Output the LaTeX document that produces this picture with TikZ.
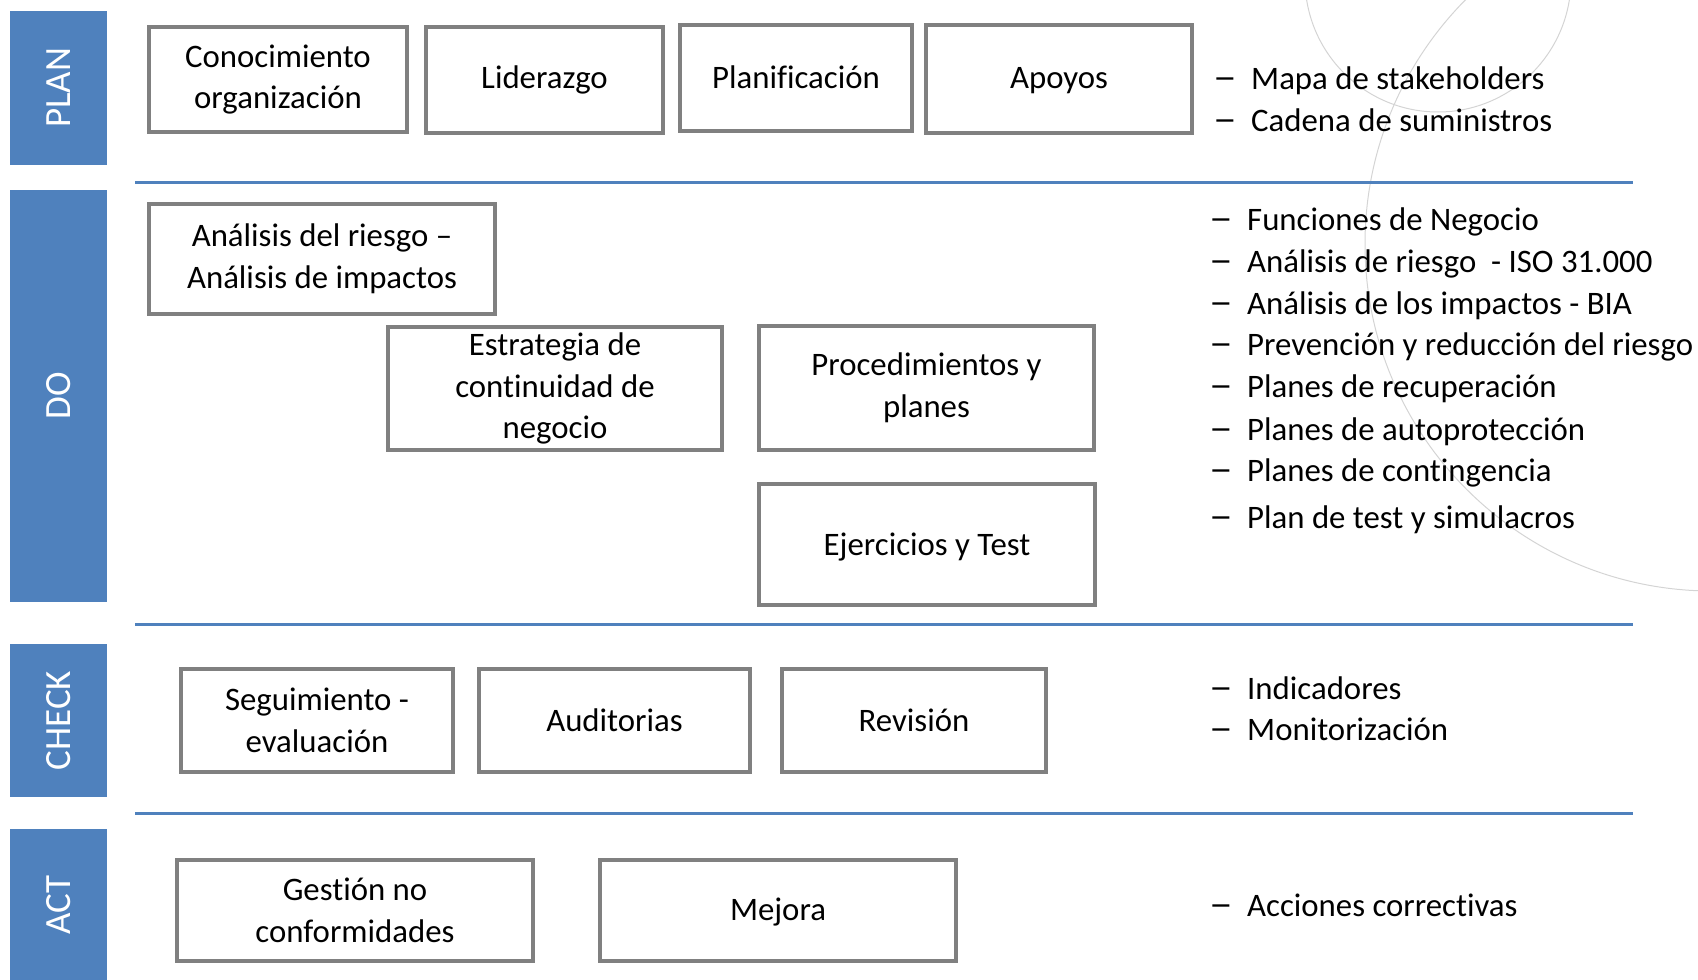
\documentclass[tikz,border=0pt]{standalone}
\usepackage{graphicx}
\usepackage{fontspec}
\setmainfont{Carlito}[Ligatures=NoCommon]
\definecolor{barblue}{HTML}{4F81BD}
\definecolor{boxgray}{HTML}{808080}
\definecolor{arcgray}{HTML}{D4D4D4}
\newcommand{\longdash}{\scalebox{1.45}[1.15]{–}}
\newcommand{\lowered}[2]{\raisebox{-#1}[\height][\depth]{#2}}
\begin{document}
\begin{tikzpicture}[x=1pt,y=-1pt,
  box/.style={draw=boxgray, line width=3.5pt, fill=white, align=center, inner sep=0pt,
    font=\fontsize{32.8}{41.7}\selectfont, text=black},
  bar/.style={fill=barblue, draw=none, inner sep=0pt, rotate=90, text=white,
    font=\fontsize{37}{44}\selectfont},
  sep/.style={draw=barblue, line width=3pt},
  item/.style={anchor=base west, inner sep=0pt, font=\fontsize{32.8}{41.7}\selectfont, text=black},
  arc/.style={draw=arcgray, line width=1pt}]
\useasboundingbox (0,0) rectangle (1698,980);
% faint background arcs
\begin{scope}
\clip (0,0) rectangle (1698,980);
\draw[arc] (1438,-21) circle [radius=133pt];
\draw[arc] (1712,244) circle [radius=347pt];
\end{scope}
% side bars
\node[bar, minimum width=154pt, minimum height=97pt] (plan) at (58.5,88) {PLAN};
\node[bar, minimum width=412pt, minimum height=97pt] (do) at (58.5,396) {DO};
\node[bar, minimum width=153pt, minimum height=97pt] (check) at (58.5,720.5) {CHECK};
\node[bar, minimum width=152pt, minimum height=97pt] (act) at (58.5,905) {ACT};
% separators
\coordinate (s1a) at (135,182); \coordinate (s1b) at (1633,182);
\coordinate (s2a) at (135,624); \coordinate (s2b) at (1633,624);
\coordinate (s3a) at (135,813); \coordinate (s3b) at (1633,813);
\draw[sep] (s1a) -- (s1b);
\draw[sep] (s2a) -- (s2b);
\draw[sep] (s3a) -- (s3b);
% PLAN boxes
\node[box, minimum width=258pt, minimum height=105pt] (b1) at (278,79.5) {Conocimiento\\organización};
\node[box, minimum width=237pt, minimum height=106pt] (b2) at (544.5,80) {Liderazgo};
\node[box, minimum width=232pt, minimum height=106pt] (b3) at (796,78) {\lowered{-1pt}{Planificación}};
\node[box, minimum width=266pt, minimum height=108pt] (b4) at (1059,79) {\lowered{2pt}{Apoyos}};
% DO boxes
\node[box, minimum width=346pt, minimum height=110pt] (b5) at (322,259) {Análisis del riesgo –\\Análisis de impactos};
\node[box, minimum width=334pt, minimum height=123pt] (b6) at (555,388.5) {Estrategia de\\continuidad de\\negocio};
\node[box, minimum width=335pt, minimum height=124pt] (b7) at (926.5,388) {Procedimientos y\\planes};
\node[box, minimum width=336pt, minimum height=121pt] (b8) at (927,544.5) {\lowered{3pt}{Ejercicios y Test}};
% CHECK boxes
\node[box, minimum width=272pt, minimum height=103pt] (b9) at (317,720.5) {Seguimiento -\\evaluación};
\node[box, minimum width=271pt, minimum height=103pt] (b10) at (614.5,720.5) {Auditorias};
\node[box, minimum width=264pt, minimum height=103pt] (b11) at (914,720.5) {Revisión};
% ACT boxes
\node[box, minimum width=356pt, minimum height=101pt] (b12) at (355,910.5) {Gestión no\\conformidades};
\node[box, minimum width=356pt, minimum height=101pt] (b13) at (778,910.5) {\lowered{2pt}{Mejora}};
% PLAN list
\node[item] (pd1) at (1213,89) {\longdash};  \node[item] (pt1) at (1251,89) {Mapa de stakeholders};
\node[item] (pd2) at (1213,131) {\longdash}; \node[item] (pt2) at (1251,131) {Cadena de suministros};
% DO list
\node[item] (dd1) at (1209,230) {\longdash}; \node[item] (dt1) at (1247,230) {Funciones de Negocio};
\node[item] (dd2) at (1209,272) {\longdash}; \node[item] (dt2) at (1247,272) {Análisis de riesgo\ \ - ISO 31.000};
\node[item] (dd3) at (1209,314) {\longdash}; \node[item] (dt3) at (1247,314) {Análisis de los impactos - BIA};
\node[item] (dd4) at (1209,355) {\longdash}; \node[item] (dt4) at (1247,355) {Prevención y reducción del riesgo};
\node[item] (dd5) at (1209,397) {\longdash}; \node[item] (dt5) at (1247,397) {Planes de recuperación};
\node[item] (dd6) at (1209,440) {\longdash}; \node[item] (dt6) at (1247,440) {Planes de autoprotección};
\node[item] (dd7) at (1209,481) {\longdash}; \node[item] (dt7) at (1247,481) {Planes de contingencia};
\node[item] (dd8) at (1209,528) {\longdash}; \node[item] (dt8) at (1247,528) {Plan de test y simulacros};
% CHECK list
\node[item] (cd1) at (1209,699) {\longdash}; \node[item] (ct1) at (1247,699) {Indicadores};
\node[item] (cd2) at (1209,740) {\longdash}; \node[item] (ct2) at (1247,740) {Monitorización};
% ACT list
\node[item] (ad1) at (1209,916) {\longdash}; \node[item] (at1) at (1247,916) {Acciones correctivas};
\end{tikzpicture}
\end{document}
